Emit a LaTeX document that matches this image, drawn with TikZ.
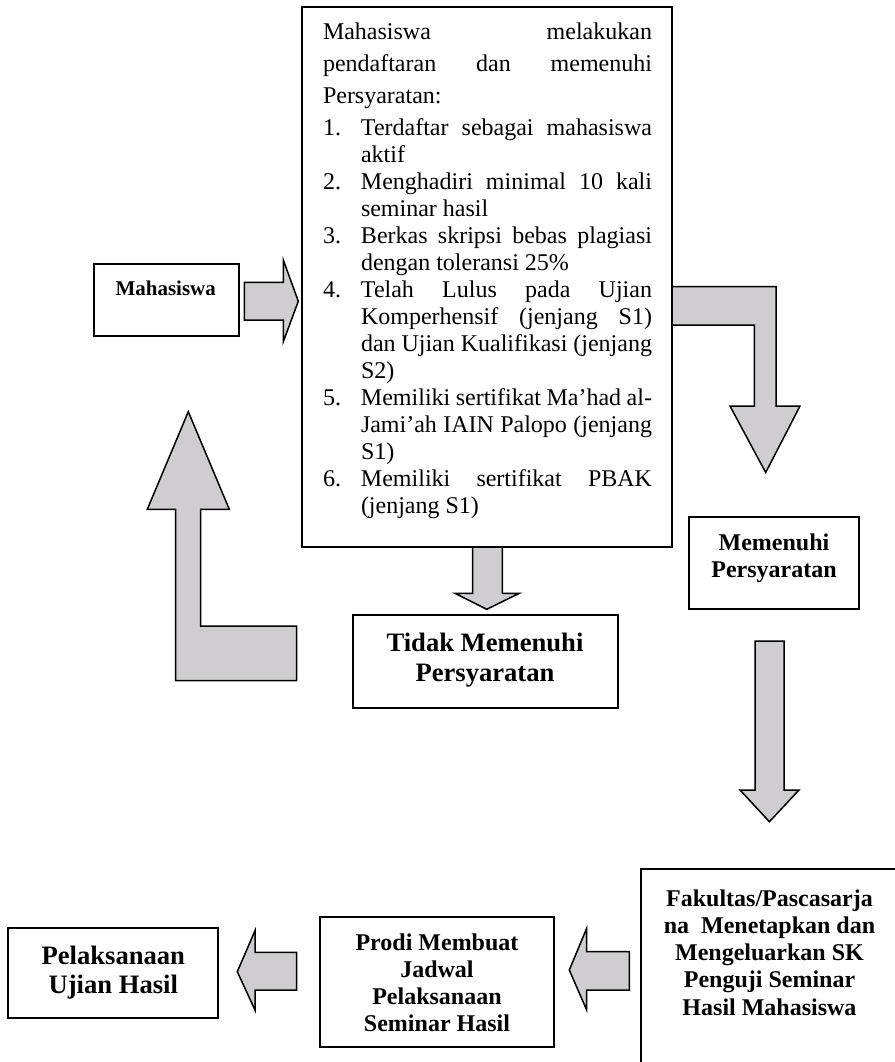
\documentclass[tikz,border=0pt]{standalone}
\usepackage{fontspec}
\setmainfont{Liberation Serif}
\definecolor{arrowfill}{RGB}{207,205,207}
\hbadness=10000
\hfuzz=5pt
% centred stack of lines whose base is the first baseline
\newcommand\linestack[2]{\vtop{\baselineskip=#1\lineskiplimit=-50pt\halign{\hfil##\hfil\cr#2\crcr}}}
% list lines of the registration box
\newcommand\itemjust[2]{\hbox to\hsize{\hbox to 19pt{#1\hfil}#2}}
\newcommand\itemlast[2]{\hbox to\hsize{\hbox to 19pt{#1\hfil}#2\hfil}}
\newcommand\contjust[1]{\hbox to\hsize{\hskip19pt #1}}
\newcommand\contlast[1]{\hbox to\hsize{\hskip19pt #1\hfil}}
\tikzset{
  frame/.style={draw, line width=1pt, fill=white, inner sep=0pt, outer sep=0pt, anchor=north west},
  blockarrow/.style={draw, fill=arrowfill, line width=0.75pt, line join=miter},
  lbl/.style={inner sep=0pt, outer sep=0pt, anchor=base},
}
\begin{document}
\begin{tikzpicture}[x=0.5pt,y=-0.5pt]
\useasboundingbox (0,0) rectangle (895,1062);
\clip (0,0) rectangle (895,1062);

% ---- boxes ----
\node[frame, minimum width=72.5pt, minimum height=35.85pt] (mhs) at (94,264.3) {};
\node[frame, minimum width=185pt, minimum height=270pt] (reg) at (302,7) {};
\node[frame, minimum width=132.3pt, minimum height=46.5pt] (tidak) at (353,615) {};
\node[frame, minimum width=85.15pt, minimum height=45.85pt] (ok) at (689,517.3) {};
\node[frame, minimum width=130pt, minimum height=100pt] (fak) at (641,869) {};
\node[frame, minimum width=117pt, minimum height=65pt] (prodi) at (320,917) {};
\node[frame, minimum width=105pt, minimum height=45.3pt] (pelak) at (8.3,927.7) {};

% ---- block arrows ----
% Mahasiswa -> registration
\draw[blockarrow] (244.3,282.3) -- (283.3,282.3) -- (283.3,260) -- (298.3,301.2)
  -- (283.3,341.7) -- (283.3,320) -- (244.3,320) -- cycle;
% back from "Tidak Memenuhi" up to Mahasiswa
\draw[blockarrow] (188.3,411.7) -- (229.3,509.3) -- (200.7,509.3) -- (200.7,626)
  -- (296.7,626) -- (296.7,680.7) -- (175.7,680.7) -- (175.7,509.3) -- (147.3,509.3) -- cycle;
% registration -> Memenuhi Persyaratan
\draw[blockarrow] (672,286.7) -- (776,286.7) -- (776,406) -- (800,406) -- (765.7,472.5)
  -- (730,406) -- (754.3,406) -- (754.3,325) -- (672,325) -- cycle;
% registration -> Tidak Memenuhi Persyaratan
\draw[blockarrow] (472.7,547) -- (502.3,547) -- (502.3,593.3) -- (519.3,593.3)
  -- (486.7,609.3) -- (455,593.3) -- (472.7,593.3) -- cycle;
% Memenuhi Persyaratan -> Fakultas
\draw[blockarrow] (755,641) -- (784,641) -- (784,790) -- (799,790) -- (769.4,821.7)
  -- (740,790) -- (755,790) -- cycle;
% Fakultas -> Prodi
\draw[blockarrow] (629.3,951.7) -- (586.7,951.7) -- (586.7,928.3) -- (569.3,970)
  -- (586.7,1010) -- (586.7,990) -- (629.3,990) -- cycle;
% Prodi -> Pelaksanaan
\draw[blockarrow] (296.7,952.3) -- (255,952.3) -- (255,930.7) -- (237.3,971.7)
  -- (255,1010) -- (255,990) -- (296.7,990) -- cycle;

% ---- texts ----
\node[lbl, anchor=base west] (regtext) at (323,39.3) {\vtop{\hsize=164.5pt
  \fontsize{12}{16}\selectfont\lineskiplimit=-50pt\parindent=0pt
  \hbox to\hsize{Mahasiswa\hfil melakukan}
  \hbox to\hsize{pendaftaran\hfil dan\hfil memenuhi}
  \hbox to\hsize{Persyaratan:\hfil}
  \itemjust{1.}{Terdaftar sebagai mahasiswa}
  \baselineskip=13.5pt
  \contlast{aktif}
  \itemjust{2.}{Menghadiri minimal 10 kali}
  \contlast{seminar hasil}
  \itemjust{3.}{Berkas skripsi bebas plagiasi}
  \contlast{dengan toleransi 25\%}
  \itemjust{4.}{Telah Lulus pada Ujian}
  \contjust{Komperhensif (jenjang S1)}
  \contjust{dan Ujian Kualifikasi (jenjang}
  \contlast{S2)}
  \itemjust{5.}{Memiliki sertifikat Ma’had al-}
  \contjust{Jami’ah IAIN Palopo (jenjang}
  \contlast{S1)}
  \itemjust{6.}{Memiliki sertifikat PBAK}
  \contlast{(jenjang S1)}
}};

\node[lbl] (mhs-t) at (165.7,295)
  {\bfseries\fontsize{10.5}{12}\selectfont\linestack{12pt}{Mahasiswa}};
\node[lbl] (tidak-t) at (485,651.7)
  {\bfseries\fontsize{13.3}{15}\selectfont\linestack{15pt}{Tidak Memenuhi\cr Persyaratan}};
\node[lbl] (ok-t) at (774,550)
  {\bfseries\fontsize{12}{13.65}\selectfont\linestack{13.65pt}{Memenuhi\cr Persyaratan}};
\node[lbl] (fak-t) at (769.5,906)
  {\bfseries\fontsize{12}{13.65}\selectfont\linestack{13.65pt}{Fakultas/Pascasarja\cr na \ Menetapkan dan\cr Mengeluarkan SK\cr Penguji Seminar\cr Hasil Mahasiswa}};
\node[lbl] (prodi-t) at (437,950)
  {\bfseries\fontsize{12}{13.6}\selectfont\linestack{13.6pt}{Prodi Membuat\cr Jadwal\cr Pelaksanaan\cr Seminar Hasil}};
\node[lbl] (pelak-t) at (113.3,964.3)
  {\bfseries\fontsize{13.3}{14.5}\selectfont\linestack{14.5pt}{Pelaksanaan\cr Ujian Hasil}};
\end{tikzpicture}
\end{document}
